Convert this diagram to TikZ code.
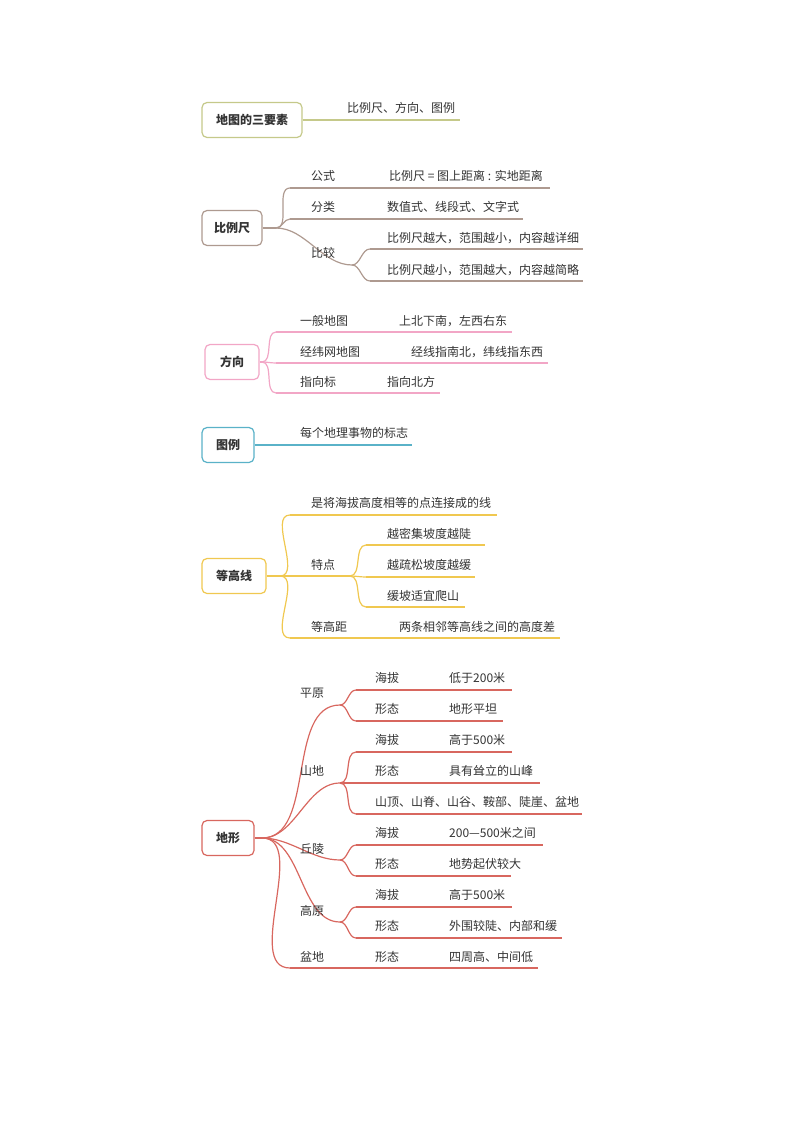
\documentclass[tikz,border=0pt]{standalone}
\usepackage{fontspec}
\setmainfont{Noto Sans CJK SC}
\usetikzlibrary{positioning}
\definecolor{cOlive}{HTML}{C5C98A}
\definecolor{cBrown}{HTML}{AE9A90}
\definecolor{cPink}{HTML}{F2A6C6}
\definecolor{cTeal}{HTML}{5AB2C8}
\definecolor{cYellow}{HTML}{F0C850}
\definecolor{cRed}{HTML}{D8675F}
\definecolor{cText}{HTML}{333333}
\tikzset{
  topic/.style={draw, rounded corners=5pt, line width=1.2pt, fill=white, minimum height=35pt, inner xsep=6pt, font=\fontsize{12}{14}\selectfont\bfseries, text=cText},
  txt/.style={anchor=base west, inner sep=0pt, font=\fontsize{12}{14}\selectfont, text=cText},
  ln/.style={line width=1.2pt},
  br/.style={line width=1.2pt, out=0, in=180, looseness=0.9},
}
\begin{document}
\begin{tikzpicture}[x=1pt,y=-1pt]
\useasboundingbox (0,0) rectangle (794,1123);

%% 地图的三要素
\node[topic, draw=cOlive, minimum width=100pt] (sys) at (252,120) {地图的三要素};
\coordinate (sysE) at (460,120);
\draw[ln, cOlive] (sys.east) -- (sysE);
\node[txt] (sysT) at (347,113) {比例尺、方向、图例};

%% 比例尺
\node[topic, draw=cBrown, minimum width=60pt] (blc) at (232,228) {比例尺};
\coordinate (blcH) at (276,228);
\coordinate (gsS) at (290,188); \coordinate (gsE) at (550,188);
\coordinate (flS) at (290,219); \coordinate (flE) at (523,219);
\coordinate (bjH) at (352,265);
\coordinate (bj1S) at (370,249); \coordinate (bj1E) at (583,249);
\coordinate (bj2S) at (370,281); \coordinate (bj2E) at (583,281);
\draw[ln, cBrown] (blc.east) -- (blcH);
\draw[br, cBrown] (blcH) to (gsS); \draw[ln, cBrown] (gsS) -- (gsE);
\draw[br, cBrown] (blcH) to (flS); \draw[ln, cBrown] (flS) -- (flE);
\draw[br, cBrown] (blcH) to (bjH);
\draw[br, cBrown] (bjH) to (bj1S); \draw[ln, cBrown] (bj1S) -- (bj1E);
\draw[br, cBrown] (bjH) to (bj2S); \draw[ln, cBrown] (bj2S) -- (bj2E);
\node[txt] (gsT) at (311,181) {公式};
\node[txt] (gsV) at (389,181) {比例尺 = 图上距离 : 实地距离};
\node[txt] (flT) at (311,212) {分类};
\node[txt] (flV) at (387,212) {数值式、线段式、文字式};
\node[txt] (bjT) at (311,257) {比较};
\node[txt] (bj1V) at (387,242) {比例尺越大，范围越小，内容越详细};
\node[txt] (bj2V) at (387,274) {比例尺越小，范围越大，内容越简略};

%% 方向
\node[topic, draw=cPink, minimum width=54pt] (fx) at (232,362) {方向};
\coordinate (fxH) at (262,362);
\coordinate (fx1S) at (276,332); \coordinate (fx1E) at (512,332);
\coordinate (fx2S) at (276,363); \coordinate (fx2E) at (548,363);
\coordinate (fx3S) at (276,393); \coordinate (fx3E) at (440,393);
\draw[ln, cPink] (fx.east) -- (fxH);
\draw[br, cPink] (fxH) to (fx1S); \draw[ln, cPink] (fx1S) -- (fx1E);
\draw[br, cPink] (fxH) to (fx2S); \draw[ln, cPink] (fx2S) -- (fx2E);
\draw[br, cPink] (fxH) to (fx3S); \draw[ln, cPink] (fx3S) -- (fx3E);
\node[txt] (fx1T) at (300,325) {一般地图};
\node[txt] (fx1V) at (399,325) {上北下南，左西右东};
\node[txt] (fx2T) at (300,356) {经纬网地图};
\node[txt] (fx2V) at (411,356) {经线指南北，纬线指东西};
\node[txt] (fx3T) at (300,386) {指向标};
\node[txt] (fx3V) at (387,386) {指向北方};

%% 图例
\node[topic, draw=cTeal, minimum width=52pt] (tl) at (228,445) {图例};
\coordinate (tlE) at (412,445);
\draw[ln, cTeal] (tl.east) -- (tlE);
\node[txt] (tlT) at (300,437) {每个地理事物的标志};

%% 等高线
\node[topic, draw=cYellow, minimum width=64pt] (dgx) at (234,576) {等高线};
\coordinate (dgxH) at (280,576);
\coordinate (dy1S) at (290,515); \coordinate (dy1E) at (497,515);
\coordinate (tdH) at (350,576);
\coordinate (td1S) at (366,545); \coordinate (td1E) at (485,545);
\coordinate (td2S) at (366,577); \coordinate (td2E) at (475,577);
\coordinate (td3S) at (366,607); \coordinate (td3E) at (465,607);
\coordinate (dgjS) at (290,638); \coordinate (dgjE) at (560,638);
\draw[ln, cYellow] (dgx.east) -- (dgxH);
\draw[br, cYellow] (dgxH) to (dy1S); \draw[ln, cYellow] (dy1S) -- (dy1E);
\draw[ln, cYellow] (dgxH) -- (tdH);
\draw[br, cYellow] (tdH) to (td1S); \draw[ln, cYellow] (td1S) -- (td1E);
\draw[br, cYellow] (tdH) to (td2S); \draw[ln, cYellow] (td2S) -- (td2E);
\draw[br, cYellow] (tdH) to (td3S); \draw[ln, cYellow] (td3S) -- (td3E);
\draw[br, cYellow] (dgxH) to (dgjS); \draw[ln, cYellow] (dgjS) -- (dgjE);
\node[txt] (dy1T) at (311,507) {是将海拔高度相等的点连接成的线};
\node[txt] (tdT) at (311,569) {特点};
\node[txt] (td1V) at (387,538) {越密集坡度越陡};
\node[txt] (td2V) at (387,569) {越疏松坡度越缓};
\node[txt] (td3V) at (387,600) {缓坡适宜爬山};
\node[txt] (dgjT) at (311,631) {等高距};
\node[txt] (dgjV) at (399,631) {两条相邻等高线之间的高度差};

%% 地形
\node[topic, draw=cRed, minimum width=52pt] (dx) at (228,838) {地形};
\coordinate (dxH) at (262,838);
\coordinate (pyH) at (340,705);
\coordinate (sdH) at (340,783);
\coordinate (qlH) at (340,860);
\coordinate (gyH) at (340,922);
\coordinate (pdS) at (290,968); \coordinate (pdE) at (538,968);
\draw[ln, cRed] (dx.east) -- (dxH);
\draw[br, cRed] (dxH) to (pyH);
\draw[br, cRed] (dxH) to (sdH);
\draw[br, cRed] (dxH) to (qlH);
\draw[br, cRed] (dxH) to (gyH);
\draw[br, cRed] (dxH) to (pdS); \draw[ln, cRed] (pdS) -- (pdE);
% 平原
\coordinate (py1S) at (356,690); \coordinate (py1E) at (512,690);
\coordinate (py2S) at (356,721); \coordinate (py2E) at (503,721);
\draw[br, cRed] (pyH) to (py1S); \draw[ln, cRed] (py1S) -- (py1E);
\draw[br, cRed] (pyH) to (py2S); \draw[ln, cRed] (py2S) -- (py2E);
% 山地
\coordinate (sd1S) at (356,752); \coordinate (sd1E) at (512,752);
\coordinate (sd2S) at (356,783); \coordinate (sd2E) at (540,783);
\coordinate (sd3S) at (356,814); \coordinate (sd3E) at (582,814);
\draw[br, cRed] (sdH) to (sd1S); \draw[ln, cRed] (sd1S) -- (sd1E);
\draw[ln, cRed] (sdH) -- (sd2E);
\draw[br, cRed] (sdH) to (sd3S); \draw[ln, cRed] (sd3S) -- (sd3E);
% 丘陵
\coordinate (ql1S) at (356,845); \coordinate (ql1E) at (543,845);
\coordinate (ql2S) at (356,876); \coordinate (ql2E) at (511,876);
\draw[br, cRed] (qlH) to (ql1S); \draw[ln, cRed] (ql1S) -- (ql1E);
\draw[br, cRed] (qlH) to (ql2S); \draw[ln, cRed] (ql2S) -- (ql2E);
% 高原
\coordinate (gy1S) at (356,907); \coordinate (gy1E) at (512,907);
\coordinate (gy2S) at (356,938); \coordinate (gy2E) at (562,938);
\draw[br, cRed] (gyH) to (gy1S); \draw[ln, cRed] (gy1S) -- (gy1E);
\draw[br, cRed] (gyH) to (gy2S); \draw[ln, cRed] (gy2S) -- (gy2E);
% texts
\node[txt] (pyT) at (300,697) {平原};
\node[txt] (py1T) at (375,682) {海拔}; \node[txt] (py1V) at (449,682) {低于200米};
\node[txt] (py2T) at (375,713) {形态}; \node[txt] (py2V) at (449,713) {地形平坦};
\node[txt] (sdT) at (300,775) {山地};
\node[txt] (sd1T) at (375,744) {海拔}; \node[txt] (sd1V) at (449,744) {高于500米};
\node[txt] (sd2T) at (375,775) {形态}; \node[txt] (sd2V) at (449,775) {具有耸立的山峰};
\node[txt] (sd3V) at (375,806) {山顶、山脊、山谷、鞍部、陡崖、盆地};
\node[txt] (qlT) at (300,853) {丘陵};
\node[txt] (ql1T) at (375,837) {海拔}; \node[txt] (ql1V) at (449,837) {200—500米之间};
\node[txt] (ql2T) at (375,868) {形态}; \node[txt] (ql2V) at (449,868) {地势起伏较大};
\node[txt] (gyT) at (300,915) {高原};
\node[txt] (gy1T) at (375,899) {海拔}; \node[txt] (gy1V) at (449,899) {高于500米};
\node[txt] (gy2T) at (375,930) {形态}; \node[txt] (gy2V) at (449,930) {外围较陡、内部和缓};
\node[txt] (pdT) at (300,961) {盆地};
\node[txt] (pd1T) at (375,961) {形态}; \node[txt] (pd1V) at (449,961) {四周高、中间低};
\end{tikzpicture}
\end{document}
